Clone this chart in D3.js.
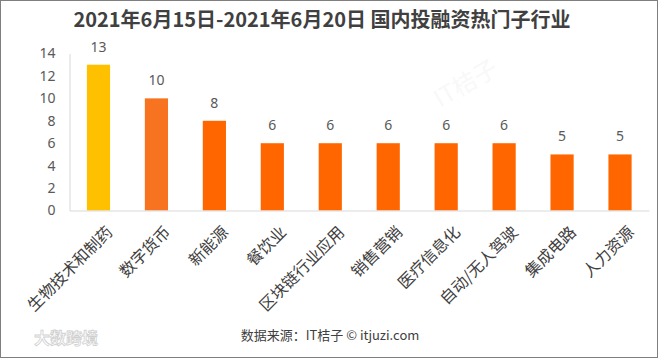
<!DOCTYPE html>
<html><head><meta charset="utf-8">
<script src="https://cdn.jsdelivr.net/npm/d3@7"></script>
<style>body{margin:0;background:#fff}svg{display:block}text{font-family:"Noto Sans CJK SC","Noto Sans",sans-serif}</style>
</head><body><svg id="c" width="658" height="358"></svg>
<script>
const categories = ["生物技术和制药","数字货币","新能源","餐饮业","区块链行业应用","销售营销","医疗信息化","自动/无人驾驶","集成电路","人力资源"];
const counts = [13,10,8,6,6,6,6,6,5,5];
const barColors = ["#FFC000","#F7731F","#FF6600","#FF6600","#FF6600","#FF6600","#FF6600","#FF6600","#FF6600","#FF6600"];
const yTicks = [0,2,4,6,8,10,12,14];
const title = "2021年6月15日-2021年6月20日 国内投融资热门子行业";
const source = "数据来源：IT桔子  © itjuzi.com";

const svg = d3.select("#c");
const W = 658, H = 358;
svg.append("rect").attr("x",0.5).attr("y",0.5).attr("width",W-1).attr("height",H-1).attr("fill","#fff").attr("stroke","#7f7f7f");

// faint watermarks
svg.append("text").attr("x",440).attr("y",108).attr("font-size",24).attr("fill","#000").attr("opacity",0.025)
  .attr("transform","rotate(-30,440,108)").text("IT桔子");
svg.append("text").attr("x",34).attr("y",344).attr("font-size",16).attr("font-weight","bold").attr("fill","none").attr("stroke","#d0d0d0").attr("stroke-width",0.8).text("大数跨境");

const x = d3.scaleBand().domain(categories).range([69.5,649]).paddingInner(0.6).paddingOuter(0.3);
const y = d3.scaleLinear().domain([0,14]).range([210.5,53.5]);

svg.append("text").attr("x",322).attr("y",27).attr("text-anchor","middle").attr("font-size",20).attr("font-weight","bold").attr("fill","#404040").text(title);

// y axis
const ya = svg.append("g").attr("transform","translate(69.5,0)").call(d3.axisLeft(y).tickValues(yTicks).tickSize(0).tickPadding(14));
ya.select(".domain").attr("stroke","#d9d9d9");
ya.selectAll("text").attr("font-size",14).attr("fill","#595959").style("font-family","'Noto Sans',sans-serif");

// bars
svg.selectAll("rect.bar").data(categories).enter().append("rect").attr("class","bar")
  .attr("x",d=>x(d)).attr("width",x.bandwidth())
  .attr("y",(d,i)=>y(counts[i])).attr("height",(d,i)=>y(0)-y(counts[i]))
  .attr("fill",(d,i)=>barColors[i]);

svg.selectAll("text.val").data(categories).enter().append("text").attr("class","val")
  .attr("x",d=>x(d)+x.bandwidth()/2).attr("y",(d,i)=>y(counts[i])-13)
  .attr("text-anchor","middle").attr("font-size",14).attr("fill","#595959").style("font-family","'Noto Sans',sans-serif")
  .text((d,i)=>counts[i]);

// x axis
const xa = svg.append("g").attr("transform","translate(0,210.5)").call(d3.axisBottom(x).tickSize(0).tickFormat(""));
xa.select(".domain").attr("stroke","#d9d9d9");

svg.selectAll("text.xl").data(categories).enter().append("text").attr("class","xl")
  .attr("transform",d=>`translate(${x(d)+x.bandwidth()/2+6},${224}) rotate(-45)`)
  .attr("text-anchor","end").attr("dy","0.8em").attr("font-size",16).attr("fill","#404040").text(d=>d);

svg.append("text").attr("x",330).attr("y",340).attr("text-anchor","middle").attr("font-size",13).attr("fill","#404040").text(source);
</script></body></html>
